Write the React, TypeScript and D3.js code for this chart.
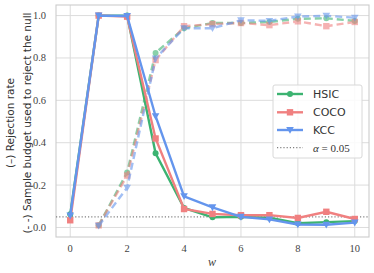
import React from "react";
import * as d3 from "d3";

const ws = [0, 1, 2, 3, 4, 5, 6, 7, 8, 9, 10];
const wsBudget = [1, 2, 3, 4, 5, 6, 7, 8, 9, 10];

const hsicRate = [0.062, 1.0, 1.0, 0.35, 0.092, 0.048, 0.05, 0.046, 0.02, 0.025, 0.03];
const cocoRate = [0.034, 1.0, 0.995, 0.42, 0.087, 0.064, 0.058, 0.058, 0.045, 0.074, 0.04];
const kccRate = [0.056, 1.0, 0.998, 0.525, 0.147, 0.095, 0.05, 0.038, 0.014, 0.013, 0.023];

const hsicBudget = [0.01, 0.26, 0.824, 0.94, 0.965, 0.965, 0.97, 0.985, 0.987, 0.975];
const cocoBudget = [0.01, 0.245, 0.79, 0.95, 0.96, 0.965, 0.955, 0.973, 0.95, 0.97];
const kccBudget = [0.008, 0.188, 0.798, 0.94, 0.94, 0.978, 0.975, 0.996, 0.999, 0.99];

const xTicks = [0, 2, 4, 6, 8, 10];
const yTicks = [0, 0.2, 0.4, 0.6, 0.8, 1.0];
const alphaLevel = 0.05;

const seriesNames = ["HSIC", "COCO", "KCC"];
const colors = ["#3cb371", "#f08080", "#6495ed"];
const markers = ["circle", "square", "triangle"];

const W = 374, H = 273;
const L = 56, R = 369, T = 5, B = 237;

function Marker({ kind, x, y, color }: { kind: string; x: number; y: number; color: string }) {
  if (kind === "circle") return <circle cx={x} cy={y} r={3} fill={color} />;
  if (kind === "square") return <rect x={x - 3.2} y={y - 3.2} width={6.4} height={6.4} fill={color} />;
  return <path d={`M${x - 3.8},${y - 3} L${x + 3.8},${y - 3} L${x},${y + 3.8} Z`} fill={color} />;
}

export default function App() {
  const x = d3.scaleLinear().domain([-0.5, 10.5]).range([L, R]);
  const y = d3.scaleLinear().domain([-0.045, 1.05]).range([B, T]);
  const line = d3.line<[number, number]>().x(d => x(d[0])).y(d => y(d[1]));

  const rates = [hsicRate, cocoRate, kccRate];
  const budgets = [hsicBudget, cocoBudget, kccBudget];

  const tickFont = "'Liberation Serif', 'DejaVu Serif', serif";
  const sansFont = "'DejaVu Sans', sans-serif";

  const legX = 273, legY = 85;
  const legRows = [94, 112.3, 130, 147.7];

  return (
    <svg width={W} height={H} style={{ position: "absolute", left: 0, top: 0 }}>
      <rect x={0} y={0} width={W} height={H} fill="white" />
      {xTicks.map(t => (
        <line key={"gx" + t} x1={x(t)} x2={x(t)} y1={T} y2={B} stroke="#dcdcdc" strokeWidth={1} />
      ))}
      {yTicks.map(t => (
        <line key={"gy" + t} x1={L} x2={R} y1={y(t)} y2={y(t)} stroke="#dcdcdc" strokeWidth={1} />
      ))}
      <rect x={L} y={T} width={R - L} height={B - T} fill="none" stroke="#cccccc" strokeWidth={1.1} />
      <line x1={L} x2={R} y1={y(alphaLevel)} y2={y(alphaLevel)} stroke="#808080" strokeWidth={1.2} strokeDasharray="1.2,2" />
      {budgets.map((b, i) => {
        const pts = wsBudget.map((w, j) => [w, b[j]] as [number, number]);
        return (
          <g key={"b" + i} opacity={0.6}>
            <path d={line(pts) || ""} fill="none" stroke={colors[i]} strokeWidth={2.4} strokeDasharray="7,4" />
            {pts.map((p, j) => (
              <Marker key={j} kind={markers[i]} x={x(p[0])} y={y(p[1])} color={colors[i]} />
            ))}
          </g>
        );
      })}
      {rates.map((r, i) => {
        const pts = ws.map((w, j) => [w, r[j]] as [number, number]);
        return (
          <g key={"r" + i}>
            <path d={line(pts) || ""} fill="none" stroke={colors[i]} strokeWidth={2.4} />
            {pts.map((p, j) => (
              <Marker key={j} kind={markers[i]} x={x(p[0])} y={y(p[1])} color={colors[i]} />
            ))}
          </g>
        );
      })}
      {xTicks.map(t => (
        <text key={"tx" + t} x={x(t)} y={252} textAnchor="middle" fontFamily={tickFont} fontSize={10.5} fill="#444">
          {String(t)}
        </text>
      ))}
      {yTicks.map(t => (
        <text key={"ty" + t} x={46} y={y(t) + 3.5} textAnchor="end" fontFamily={tickFont} fontSize={10.5} fill="#444">
          {t.toFixed(1)}
        </text>
      ))}
      <text x={212} y={266} textAnchor="middle" fontFamily={tickFont} fontStyle="italic" fontSize={12} fill="#444">w</text>
      <g transform={`translate(14,${(T + B) / 2 + 2}) rotate(-90)`}>
        <text textAnchor="middle" fontFamily={sansFont} fontSize={10.5} fill="#333">(–) Rejection rate</text>
      </g>
      <g transform={`translate(31,${(T + B) / 2 + 2}) rotate(-90)`}>
        <text textAnchor="middle" fontFamily={sansFont} fontSize={10.5} fill="#333">(- -) Sample budget used to reject the null</text>
      </g>
      <rect x={legX} y={legY} width={89} height={73} rx={2} fill="white" fillOpacity={0.85} stroke="#d8d8d8" strokeWidth={1} />
      {seriesNames.map((n, i) => (
        <g key={"l" + i}>
          <line x1={277} x2={303} y1={legRows[i]} y2={legRows[i]} stroke={colors[i]} strokeWidth={2.4} />
          <Marker kind={markers[i]} x={290} y={legRows[i]} color={colors[i]} />
          <text x={313} y={legRows[i] + 4} fontFamily={sansFont} fontSize={11} fill="#333">{n}</text>
        </g>
      ))}
      <line x1={277} x2={303} y1={legRows[3]} y2={legRows[3]} stroke="#808080" strokeWidth={1.2} strokeDasharray="1.2,2" />
      <text x={313} y={legRows[3] + 4} fontFamily={tickFont} fontSize={11} fill="#333">
        <tspan fontStyle="italic">α</tspan> = 0.05
      </text>
    </svg>
  );
}
